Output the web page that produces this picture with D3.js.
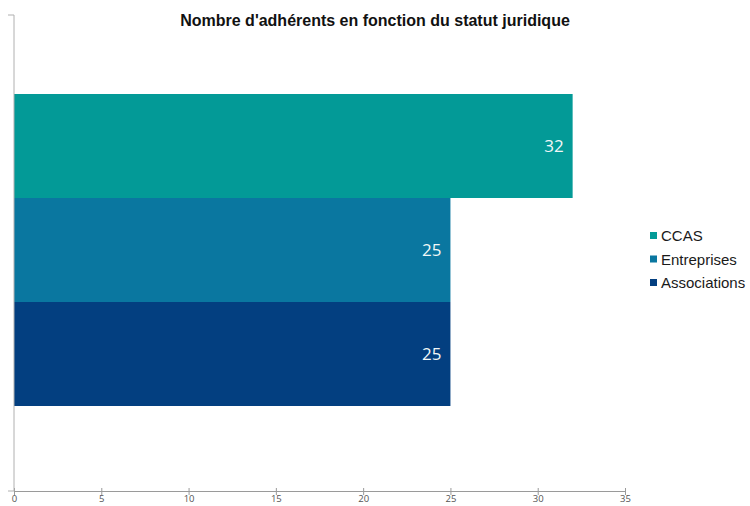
<!DOCTYPE html>
<html>
<head>
<meta charset="utf-8">
<script src="https://cdn.jsdelivr.net/npm/d3@7"></script>
<style>
  body { margin: 0; background: #fff; }
  svg { display: block; }
</style>
</head>
<body>
<div id="chart"></div>
<script>
// data
const series = ['CCAS', 'Entreprises', 'Associations'];
const values = [32, 25, 25];
const colors = ['#039a97', '#0a77a0', '#033f80'];
const xTicks = [0, 5, 10, 15, 20, 25, 30, 35];
const title = "Nombre d'adhérents en fonction du statut juridique";

const width = 750, height = 506;
const margin = { top: 15, right: 125, bottom: 15, left: 14 };

const svg = d3.select('#chart').append('svg')
  .attr('width', width).attr('height', height);

// x scale
const x = d3.scaleLinear()
  .domain([0, 35])
  .range([margin.left, 625]);

// bars stacked vertically in one category
const y = d3.scaleBand()
  .domain(series)
  .range([margin.top + 79, height - margin.bottom - 85])
  .padding(0);

svg.append('g')
  .selectAll('rect')
  .data(series)
  .join('rect')
  .attr('x', x(0))
  .attr('y', d => y(d))
  .attr('width', (d, i) => x(values[i]) - x(0))
  .attr('height', y.bandwidth())
  .attr('fill', (d, i) => colors[i]);

// value labels
svg.append('g')
  .selectAll('text')
  .data(series)
  .join('text')
  .attr('x', (d, i) => x(values[i]) - 9)
  .attr('y', d => y(d) + y.bandwidth() / 2)
  .attr('dy', '0.35em')
  .attr('text-anchor', 'end')
  .attr('fill', '#f2f7f7')
  .style('font-family', 'Open Sans, sans-serif')
  .style('font-size', '17px')
  .text((d, i) => values[i]);

// x axis
const axisY = 491;
const xAxis = g => g
  .attr('transform', `translate(0,${axisY})`)
  .call(d3.axisBottom(x).tickValues(xTicks).tickSize(4).tickSizeOuter(0).tickPadding(0))
  .call(g => g.selectAll('.tick line').attr('y1', -3).attr('stroke', '#9a9a9a'))
  .call(g => g.select('.domain').attr('stroke', '#9a9a9a'))
  .call(g => g.selectAll('text')
    .attr('fill', '#555')
    .style('font-family', 'Open Sans, sans-serif')
    .style('font-size', '9.5px'));

svg.append('g').call(xAxis);

// y axis line (left)
svg.append('line')
  .attr('x1', x(0)).attr('x2', x(0))
  .attr('y1', margin.top).attr('y2', axisY)
  .attr('stroke', '#b0b0b0');
svg.append('line')
  .attr('x1', x(0) - 6).attr('x2', x(0))
  .attr('y1', margin.top).attr('y2', margin.top)
  .attr('stroke', '#b0b0b0');
svg.append('line')
  .attr('x1', x(0) - 6).attr('x2', x(0))
  .attr('y1', axisY).attr('y2', axisY)
  .attr('stroke', '#b0b0b0');

// title
svg.append('text')
  .attr('x', 375)
  .attr('y', 26)
  .attr('text-anchor', 'middle')
  .style('font-family', 'Liberation Sans, Arial, sans-serif')
  .style('font-weight', 'bold')
  .style('font-size', '16px')
  .attr('fill', '#111')
  .text(title);

// legend
const legend = svg.append('g')
  .selectAll('g')
  .data(series)
  .join('g')
  .attr('transform', (d, i) => `translate(650,${236 + i * 23.5})`);

legend.append('rect')
  .attr('x', 0).attr('y', -4)
  .attr('width', 7).attr('height', 7)
  .attr('fill', (d, i) => colors[i]);

legend.append('text')
  .attr('x', 11)
  .attr('dy', '0.35em')
  .style('font-family', 'Liberation Sans, Arial, sans-serif')
  .style('font-size', '15px')
  .attr('fill', '#1a1a1a')
  .text(d => d);
</script>
</body>
</html>
